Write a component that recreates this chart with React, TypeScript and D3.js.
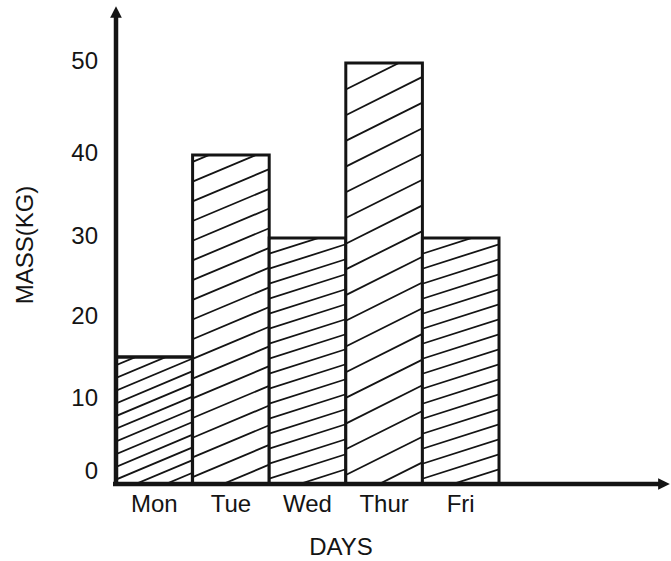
import React from "react";
import * as d3 from "d3";

const days = ["Mon", "Tue", "Wed", "Thur", "Fri"];
const mass = [15, 40, 30, 50, 30];
const yTicks = [0, 10, 20, 30, 40, 50];
const xTitle = "DAYS";
const yTitle = "MASS(KG)";

// hatch style per bar: slope of the lines, vertical spacing (px)
const hatchSlope = [0.42, 0.42, 0.32, 0.5, 0.32];
const hatchGap = [12.7, 19.7, 15, 25.7, 15];

const W = 671;
const H = 561;
const FONT = "'Liberation Sans', Arial, Helvetica, sans-serif";
const INK = "#141414";

export default function App() {
  const x0 = 116;
  const baseY = 484;
  const x = d3.scaleBand<string>().domain(days).range([x0, 499]).padding(0);
  // hand-drawn axis: piecewise linear scale following the drawn tick spacing
  const y = d3
    .scaleLinear()
    .domain([0, 15, 30, 40, 50])
    .range([baseY, 357, 238, 155, 63]);

  const hatchLines = (i: number) => {
    const xl = x(days[i])!;
    const w = x.bandwidth();
    const s = hatchSlope[i];
    const g = hatchGap[i];
    const top = y(mass[i]);
    const rise = s * w;
    const lines: { x1: number; y1: number; x2: number; y2: number }[] = [];
    for (let yy = baseY + Math.ceil(rise / g) * g - g * 0.35; yy > top - 2; yy -= g) {
      lines.push({ x1: xl, y1: yy, x2: xl + w, y2: yy - rise });
    }
    return lines;
  };

  return (
    <svg
      width={W}
      height={H}
      style={{ position: "absolute", left: 0, top: 0, background: "#fff" }}
    >
      <defs>
        {days.map((d, i) => (
          <clipPath key={d} id={`clip-${i}`}>
            <rect x={x(d)!} y={y(mass[i])} width={x.bandwidth()} height={baseY - y(mass[i])} />
          </clipPath>
        ))}
        <marker
          id="arrow"
          viewBox="0 0 10 10"
          refX="5"
          refY="5"
          markerWidth="2.6"
          markerHeight="2.6"
          orient="auto"
        >
          <path d="M0,0 L10,5 L0,10 z" fill={INK} />
        </marker>
      </defs>

      {/* bars */}
      {days.map((d, i) => (
        <g key={d}>
          <rect
            x={x(d)!}
            y={y(mass[i])}
            width={x.bandwidth()}
            height={baseY - y(mass[i])}
            fill="#fff"
          />
          <g clipPath={`url(#clip-${i})`}>
            {hatchLines(i).map((l, k) => (
              <line key={k} {...l} stroke={INK} strokeWidth={1.8} />
            ))}
          </g>
          <rect
            x={x(d)!}
            y={y(mass[i])}
            width={x.bandwidth()}
            height={baseY - y(mass[i])}
            fill="none"
            stroke={INK}
            strokeWidth={i === 0 ? 3.5 : 3}
          />
        </g>
      ))}

      {/* axes */}
      <line x1={x0} y1={486} x2={x0} y2={12} stroke={INK} strokeWidth={4.5} markerEnd="url(#arrow)" />
      <line x1={113} y1={baseY} x2={664} y2={baseY} stroke={INK} strokeWidth={4.5} markerEnd="url(#arrow)" />

      {/* y tick labels */}
      {yTicks.map((t) => (
        <text
          key={t}
          x={98}
          y={t === 0 ? y(t) - 11 : y(t)}
          textAnchor="end"
          dominantBaseline="middle"
          fontFamily={FONT}
          fontSize={24}
          fill={INK}
        >
          {t}
        </text>
      ))}

      {/* x tick labels */}
      {days.map((d) => (
        <text
          key={d}
          x={x(d)! + x.bandwidth() / 2}
          y={512}
          textAnchor="middle"
          fontFamily={FONT}
          fontSize={24}
          fill={INK}
        >
          {d}
        </text>
      ))}

      <text x={341} y={555} textAnchor="middle" fontFamily={FONT} fontSize={24} fill={INK}>
        {xTitle}
      </text>
      <text
        transform="translate(33,245) rotate(-90)"
        textAnchor="middle"
        fontFamily={FONT}
        fontSize={24}
        fill={INK}
      >
        {yTitle}
      </text>
    </svg>
  );
}
